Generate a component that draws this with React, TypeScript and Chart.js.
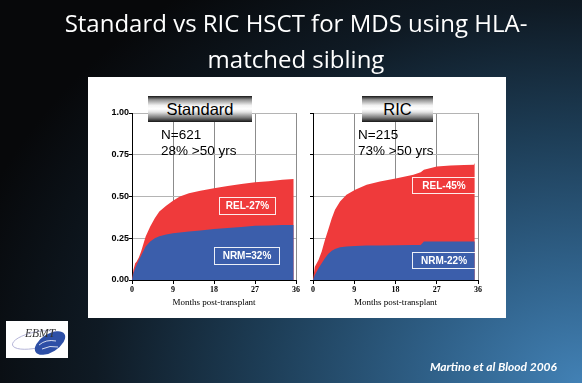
import React, { useEffect, useRef } from "react";
import { Chart, registerables } from "chart.js";

Chart.register(...registerables);

// ---- Data ----
const stdMonths = [0, 0.3, 0.7, 1, 1.5, 2, 3, 4, 5, 6, 7.5, 9, 10.5, 12.5, 15, 18, 21, 24, 27, 30, 33, 35.5];
const stdNrm = [0, 0.04, 0.07, 0.09, 0.12, 0.145, 0.2, 0.23, 0.25, 0.262, 0.272, 0.28, 0.285, 0.29, 0.297, 0.305, 0.312, 0.318, 0.325, 0.327, 0.329, 0.33];
const stdTotal = [0, 0.06, 0.1, 0.11, 0.135, 0.17, 0.26, 0.32, 0.37, 0.41, 0.445, 0.475, 0.5, 0.52, 0.535, 0.55, 0.563, 0.575, 0.585, 0.592, 0.6, 0.605];

const ricMonths = [0, 0.4, 1.2, 1.9, 2.6, 3.3, 4.1, 4.8, 5.9, 7.3, 9.2, 11.7, 14.6, 18.3, 21.9, 23.5, 24.2, 27, 30, 33, 35.1, 35.3];
const ricNrm = [0, 0.03, 0.07, 0.1, 0.13, 0.155, 0.175, 0.185, 0.196, 0.2, 0.204, 0.206, 0.207, 0.208, 0.21, 0.21, 0.23, 0.23, 0.23, 0.23, 0.23, 0.23];
const ricTotal = [0, 0.08, 0.12, 0.17, 0.24, 0.3, 0.37, 0.42, 0.47, 0.51, 0.54, 0.57, 0.59, 0.61, 0.63, 0.645, 0.66, 0.68, 0.685, 0.688, 0.69, 0.7];

const xTickLabels = ["0", "9", "18", "27", "36"];
const yTickLabels = ["0.00", "0.25", "0.50", "0.75", "1.00"];
const xAxisTitle = "Months post-transplant";

const RED = "#ef3a3b";
const BLUE = "#3b5eab";

type KMProps = {
  months: number[];
  nrm: number[];
  total: number[];
  showY: boolean;
  yWidth: number;
  padRight: number;
  left: number;
  width: number;
};

function KMChart({ months, nrm, total, showY, yWidth, padRight, left, width }: KMProps) {
  const ref = useRef<HTMLCanvasElement | null>(null);
  useEffect(() => {
    if (!ref.current) return;
    const chart = new Chart(ref.current, {
      type: "line",
      data: {
        datasets: [
          {
            label: "NRM",
            data: months.map((m, i) => ({ x: m, y: nrm[i] })),
            fill: "origin",
            backgroundColor: BLUE,
            borderWidth: 0,
            pointRadius: 0,
            tension: 0,
            order: 0,
          },
          {
            label: "REL",
            data: months.map((m, i) => ({ x: m, y: total[i] })),
            fill: "origin",
            backgroundColor: RED,
            borderWidth: 0,
            pointRadius: 0,
            tension: 0,
            order: 1,
          },
        ],
      },
      options: {
        animation: false,
        responsive: false,
        maintainAspectRatio: false,
        layout: { padding: { top: 13, right: padRight, bottom: 0, left: 0 } },
        plugins: { legend: { display: false }, tooltip: { enabled: false } },
        scales: {
          x: {
            type: "linear",
            min: 0,
            max: 36,
            ticks: {
              stepSize: 9,
              color: "#000",
              padding: 1,
              maxRotation: 0,
              font: { family: "'Liberation Serif', serif", size: 8, weight: "bold" },
              callback: (_v: any, i: number) => xTickLabels[i],
            },
            grid: { color: "#8c8c8c", tickColor: "#000", tickLength: 4 },
            border: { color: "#000", width: 1 },
            title: {
              display: true,
              text: xAxisTitle,
              color: "#000",
              font: { family: "'Liberation Serif', serif", size: 9 },
              padding: { top: 0, bottom: 0 },
            },
            afterFit: (s: any) => {
              s.height = 28;
            },
          },
          y: {
            type: "linear",
            min: 0,
            max: 1,
            ticks: {
              stepSize: 0.25,
              display: showY,
              color: "#000",
              padding: 0,
              font: { family: "'Liberation Sans', sans-serif", size: 9, weight: "bold" },
              callback: (_v: any, i: number) => yTickLabels[i],
            },
            grid: { color: "#b4b4b4", tickColor: "#000", tickLength: 3 },
            border: { color: "#000", width: 1 },
            afterFit: (s: any) => {
              s.width = yWidth;
            },
          },
        },
      },
    });
    return () => chart.destroy();
  }, []);
  return (
    <canvas
      ref={ref}
      width={width}
      height={208}
      style={{ position: "absolute", left, top: 100, width, height: 208 }}
    />
  );
}

const boxStyle = (left: number, top: number, w: number, h: number): React.CSSProperties => ({
  position: "absolute",
  left,
  top,
  width: w,
  height: h,
  boxSizing: "border-box",
  border: "1px solid rgba(255,255,255,0.9)",
  color: "#fff",
  fontFamily: "'Liberation Sans', Arial, sans-serif",
  fontWeight: "bold",
  fontSize: 10,
  lineHeight: `${h - 2}px`,
  textAlign: "center",
  whiteSpace: "nowrap",
});

const headStyle = (left: number, w: number): React.CSSProperties => ({
  position: "absolute",
  left,
  top: 96,
  width: w,
  height: 26,
  background:
    "linear-gradient(to bottom, #151515 0%, #8f8f8f 14%, #f2f2f2 36%, #ffffff 50%, #e2e2e2 62%, #7a7a7a 83%, #151515 100%)",
  color: "#000",
  fontFamily: "'Liberation Sans', Arial, sans-serif",
  fontSize: 16.5,
  lineHeight: "26px",
  textAlign: "center",
});

const noteStyle = (left: number): React.CSSProperties => ({
  position: "absolute",
  left,
  top: 127.3,
  fontFamily: "'Liberation Sans', Arial, sans-serif",
  fontSize: 13.5,
  lineHeight: "16px",
  color: "#000",
  whiteSpace: "nowrap",
});

export default function App() {
  return (
    <div
      style={{
        position: "fixed",
        left: 0,
        top: 0,
        width: 582,
        height: 383,
        overflow: "hidden",
        background:
          "radial-gradient(ellipse 110% 130% at 100% 100%, #4281b5 0%, #2f6088 24%, #1d3d56 50%, #0f1a24 76%, #07080a 100%)",
      }}
    >
      <div
        style={{
          position: "absolute",
          left: 5,
          top: 4.6,
          width: 582,
          textAlign: "center",
          color: "#fff",
          fontFamily: "'Open Sans', sans-serif",
          fontSize: 24,
          lineHeight: "36.7px",
          whiteSpace: "nowrap",
        }}
      >
        Standard vs RIC HSCT for MDS using HLA-
        <br />
        matched sibling
      </div>

      <div style={{ position: "absolute", left: 88, top: 77, width: 418, height: 241, background: "#fff" }} />

      <KMChart months={stdMonths} nrm={stdNrm} total={stdTotal} showY={true} yWidth={32} padRight={9} left={100} width={205} />
      <KMChart months={ricMonths} nrm={ricNrm} total={ricTotal} showY={false} yWidth={13} padRight={7} left={300} width={185} />

      <div style={headStyle(148, 104)}>Standard</div>
      <div style={headStyle(362, 71)}>RIC</div>

      <div style={noteStyle(161)}>
        N=621
        <br />
        28% &gt;50 yrs
      </div>
      <div style={noteStyle(358)}>
        N=215
        <br />
        73% &gt;50 yrs
      </div>

      <div style={boxStyle(219, 197, 57, 18)}>REL-27%</div>
      <div style={boxStyle(214, 247, 66, 18)}>NRM=32%</div>
      <div style={boxStyle(412, 177, 64, 17)}>REL-45%</div>
      <div style={boxStyle(412, 252, 64, 17)}>NRM-22%</div>

      <svg width={62} height={37} style={{ position: "absolute", left: 6, top: 321 }}>
        <rect width={62} height={37} fill="#fff" />
        <ellipse cx={30} cy={19} rx={24} ry={8} fill="none" stroke="#a9a9d2" strokeWidth={0.8} transform="rotate(-12 30 19)" />
        <ellipse cx={44} cy={22} rx={17} ry={9} fill="#2d4fa6" transform="rotate(-32 44 22)" />
        <path d="M33 24 Q40 18 50 20 M36 28 Q44 24 52 26" stroke="#fff" strokeWidth={0.8} fill="none" />
        <text x={19} y={16} fontFamily="'Liberation Serif', serif" fontStyle="italic" fontSize={11.5} fill="#333">
          EBMT
        </text>
      </svg>

      <div
        style={{
          position: "absolute",
          right: 25,
          top: 359,
          color: "#fff",
          fontFamily: "Lato, sans-serif",
          fontStyle: "italic",
          fontWeight: "bold",
          fontSize: 12,
          lineHeight: "15px",
          whiteSpace: "nowrap",
        }}
      >
        Martino et al Blood 2006
      </div>
    </div>
  );
}
